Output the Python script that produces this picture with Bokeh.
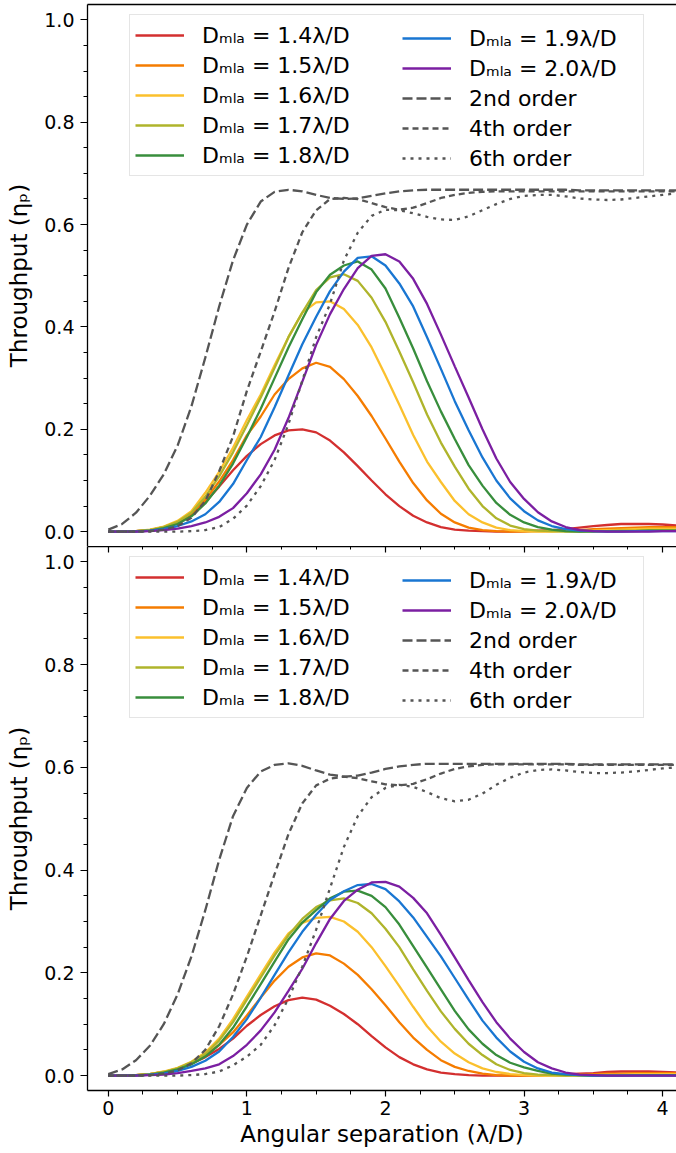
from bokeh.plotting import figure
from bokeh.layouts import column
from bokeh.models import (Legend, LegendItem, LinearAxis, SingleIntervalTicker,
                          Range1d, PrintfTickFormatter)
from bokeh.embed import file_html
from bokeh.resources import INLINE

# angular separation (lambda/D)
sep = [0.0, 0.1, 0.2, 0.3, 0.4, 0.5, 0.6, 0.7, 0.8, 0.9,
       1.0, 1.1, 1.2, 1.3, 1.4, 1.5, 1.6, 1.7, 1.8, 1.9,
       2.0, 2.1, 2.2, 2.3, 2.4, 2.5, 2.6, 2.7, 2.8, 2.9,
       3.0, 3.1, 3.2, 3.3, 3.4, 3.5, 3.6, 3.7, 3.8, 3.9,
       4.0, 4.1]

# ---- top panel ----
top_14 = [0.000, 0.000, 0.001, 0.003, 0.009, 0.018, 0.034, 0.058, 0.088, 0.120,
          0.148, 0.171, 0.188, 0.198, 0.200, 0.194, 0.178, 0.155, 0.128, 0.100,
          0.073, 0.050, 0.031, 0.018, 0.009, 0.004, 0.002, 0.001, 0.000, 0.000,
          0.001, 0.002, 0.003, 0.005, 0.008, 0.011, 0.013, 0.015, 0.015, 0.015,
          0.014, 0.012]
top_15 = [0.000, 0.000, 0.001, 0.003, 0.009, 0.019, 0.036, 0.062, 0.098, 0.140,
          0.188, 0.225, 0.268, 0.298, 0.319, 0.330, 0.322, 0.298, 0.265, 0.226,
          0.182, 0.137, 0.095, 0.061, 0.035, 0.018, 0.008, 0.003, 0.001, 0.000,
          0.000, 0.001, 0.001, 0.002, 0.003, 0.005, 0.006, 0.007, 0.008, 0.009,
          0.009, 0.009]
top_16 = [0.000, 0.000, 0.001, 0.004, 0.010, 0.021, 0.040, 0.076, 0.117, 0.164,
          0.218, 0.268, 0.325, 0.380, 0.428, 0.448, 0.450, 0.435, 0.404, 0.360,
          0.305, 0.248, 0.189, 0.137, 0.097, 0.060, 0.034, 0.018, 0.008, 0.003,
          0.001, 0.000, 0.000, 0.001, 0.001, 0.002, 0.003, 0.004, 0.005, 0.006,
          0.006, 0.006]
top_17 = [0.000, 0.000, 0.001, 0.003, 0.009, 0.019, 0.037, 0.068, 0.108, 0.155,
          0.208, 0.262, 0.320, 0.380, 0.428, 0.472, 0.497, 0.503, 0.490, 0.457,
          0.410, 0.352, 0.292, 0.229, 0.174, 0.127, 0.084, 0.050, 0.026, 0.012,
          0.005, 0.002, 0.001, 0.000, 0.000, 0.001, 0.001, 0.002, 0.002, 0.003,
          0.003, 0.003]
top_18 = [0.000, 0.000, 0.001, 0.002, 0.007, 0.015, 0.030, 0.055, 0.090, 0.133,
          0.185, 0.240, 0.300, 0.360, 0.415, 0.468, 0.502, 0.520, 0.528, 0.512,
          0.475, 0.418, 0.358, 0.294, 0.235, 0.181, 0.130, 0.090, 0.056, 0.033,
          0.018, 0.009, 0.004, 0.001, 0.000, 0.000, 0.001, 0.001, 0.001, 0.002,
          0.002, 0.002]
top_19 = [0.000, 0.000, 0.000, 0.002, 0.005, 0.011, 0.020, 0.034, 0.058, 0.093,
          0.140, 0.185, 0.243, 0.305, 0.366, 0.420, 0.470, 0.508, 0.535, 0.538,
          0.520, 0.485, 0.440, 0.380, 0.318, 0.255, 0.198, 0.145, 0.100, 0.065,
          0.040, 0.022, 0.011, 0.005, 0.002, 0.001, 0.000, 0.000, 0.001, 0.001,
          0.001, 0.001]
top_20 = [0.000, 0.000, 0.000, 0.001, 0.003, 0.006, 0.011, 0.018, 0.029, 0.046,
          0.075, 0.112, 0.160, 0.222, 0.293, 0.365, 0.425, 0.474, 0.515, 0.539,
          0.542, 0.528, 0.494, 0.445, 0.385, 0.323, 0.262, 0.200, 0.143, 0.097,
          0.064, 0.038, 0.020, 0.009, 0.003, 0.001, 0.000, 0.000, 0.000, 0.000,
          0.001, 0.001]
top_2nd = [0.004, 0.015, 0.037, 0.070, 0.112, 0.168, 0.245, 0.340, 0.440, 0.530,
           0.600, 0.645, 0.664, 0.668, 0.665, 0.658, 0.652, 0.650, 0.651, 0.656,
           0.661, 0.665, 0.667, 0.668, 0.668, 0.668, 0.668, 0.668, 0.668, 0.668,
           0.668, 0.668, 0.668, 0.668, 0.667, 0.667, 0.667, 0.667, 0.667, 0.667,
           0.667, 0.667]
top_4th = [0.000, 0.000, 0.000, 0.001, 0.004, 0.011, 0.027, 0.060, 0.118, 0.186,
           0.275, 0.352, 0.430, 0.515, 0.585, 0.628, 0.650, 0.652, 0.650, 0.642,
           0.634, 0.629, 0.633, 0.642, 0.652, 0.658, 0.662, 0.664, 0.665, 0.665,
           0.665, 0.665, 0.665, 0.665, 0.665, 0.665, 0.665, 0.665, 0.665, 0.665,
           0.665, 0.665]
top_6th = [0.000, 0.000, 0.000, 0.000, 0.000, 0.000, 0.001, 0.003, 0.009, 0.025,
           0.051, 0.089, 0.140, 0.210, 0.295, 0.380, 0.445, 0.530, 0.584, 0.617,
           0.629, 0.628, 0.622, 0.615, 0.610, 0.609, 0.616, 0.628, 0.640, 0.650,
           0.656, 0.658, 0.658, 0.655, 0.651, 0.649, 0.648, 0.649, 0.652, 0.655,
           0.658, 0.661]

# ---- bottom panel ----
bot_14 = [0.000, 0.000, 0.001, 0.003, 0.007, 0.013, 0.023, 0.036, 0.052, 0.072,
          0.097, 0.118, 0.135, 0.147, 0.152, 0.148, 0.136, 0.120, 0.100, 0.077,
          0.055, 0.036, 0.022, 0.012, 0.006, 0.003, 0.001, 0.000, 0.000, 0.000,
          0.000, 0.001, 0.002, 0.003, 0.004, 0.005, 0.007, 0.008, 0.008, 0.008,
          0.007, 0.006]
bot_15 = [0.000, 0.000, 0.001, 0.003, 0.007, 0.014, 0.025, 0.040, 0.060, 0.084,
          0.117, 0.152, 0.185, 0.212, 0.230, 0.238, 0.234, 0.218, 0.196, 0.168,
          0.137, 0.104, 0.074, 0.050, 0.030, 0.017, 0.009, 0.004, 0.001, 0.000,
          0.000, 0.000, 0.001, 0.001, 0.002, 0.003, 0.004, 0.004, 0.005, 0.005,
          0.005, 0.005]
bot_16 = [0.000, 0.000, 0.001, 0.003, 0.008, 0.015, 0.027, 0.045, 0.072, 0.110,
          0.154, 0.197, 0.240, 0.277, 0.297, 0.307, 0.309, 0.300, 0.280, 0.250,
          0.213, 0.174, 0.134, 0.096, 0.066, 0.043, 0.026, 0.014, 0.007, 0.003,
          0.001, 0.000, 0.000, 0.000, 0.001, 0.001, 0.002, 0.002, 0.003, 0.003,
          0.003, 0.003]
bot_17 = [0.000, 0.000, 0.001, 0.003, 0.007, 0.014, 0.026, 0.042, 0.068, 0.104,
          0.148, 0.191, 0.234, 0.273, 0.305, 0.328, 0.341, 0.345, 0.336, 0.316,
          0.286, 0.250, 0.207, 0.165, 0.125, 0.091, 0.062, 0.040, 0.022, 0.011,
          0.005, 0.002, 0.001, 0.000, 0.000, 0.000, 0.001, 0.001, 0.001, 0.001,
          0.001, 0.001]
bot_18 = [0.000, 0.000, 0.001, 0.002, 0.006, 0.012, 0.022, 0.037, 0.060, 0.093,
          0.135, 0.178, 0.222, 0.265, 0.298, 0.322, 0.345, 0.358, 0.360, 0.350,
          0.328, 0.294, 0.252, 0.210, 0.168, 0.126, 0.090, 0.062, 0.040, 0.025,
          0.016, 0.009, 0.004, 0.002, 0.001, 0.000, 0.000, 0.000, 0.001, 0.001,
          0.001, 0.001]
bot_19 = [0.000, 0.000, 0.000, 0.002, 0.004, 0.009, 0.017, 0.029, 0.047, 0.075,
          0.110, 0.152, 0.196, 0.240, 0.280, 0.313, 0.342, 0.359, 0.371, 0.373,
          0.363, 0.339, 0.308, 0.270, 0.232, 0.190, 0.148, 0.107, 0.074, 0.047,
          0.027, 0.014, 0.006, 0.003, 0.001, 0.000, 0.000, 0.000, 0.000, 0.000,
          0.000, 0.000]
bot_20 = [0.000, 0.000, 0.000, 0.001, 0.002, 0.005, 0.009, 0.014, 0.022, 0.038,
          0.060, 0.088, 0.123, 0.165, 0.208, 0.258, 0.305, 0.340, 0.362, 0.376,
          0.377, 0.368, 0.346, 0.316, 0.274, 0.230, 0.186, 0.143, 0.104, 0.072,
          0.046, 0.026, 0.014, 0.006, 0.002, 0.001, 0.000, 0.000, 0.000, 0.000,
          0.000, 0.000]
bot_2nd = [0.003, 0.012, 0.030, 0.058, 0.100, 0.158, 0.232, 0.322, 0.420, 0.505,
           0.560, 0.592, 0.605, 0.608, 0.603, 0.594, 0.586, 0.582, 0.584, 0.590,
           0.597, 0.602, 0.605, 0.607, 0.607, 0.607, 0.607, 0.607, 0.607, 0.607,
           0.607, 0.607, 0.607, 0.607, 0.606, 0.606, 0.606, 0.606, 0.606, 0.606,
           0.606, 0.606]
bot_4th = [0.000, 0.000, 0.000, 0.001, 0.004, 0.010, 0.024, 0.050, 0.096, 0.158,
           0.232, 0.312, 0.392, 0.470, 0.530, 0.565, 0.578, 0.582, 0.579, 0.573,
           0.567, 0.565, 0.568, 0.577, 0.588, 0.597, 0.602, 0.605, 0.606, 0.606,
           0.606, 0.606, 0.606, 0.606, 0.605, 0.605, 0.605, 0.605, 0.605, 0.605,
           0.605, 0.605]
bot_6th = [0.000, 0.000, 0.000, 0.000, 0.000, 0.000, 0.001, 0.003, 0.008, 0.020,
           0.037, 0.060, 0.098, 0.150, 0.212, 0.284, 0.365, 0.445, 0.505, 0.542,
           0.560, 0.566, 0.562, 0.552, 0.540, 0.534, 0.537, 0.549, 0.566, 0.580,
           0.590, 0.595, 0.596, 0.594, 0.591, 0.589, 0.589, 0.590, 0.592, 0.595,
           0.598, 0.600]

mla_sizes = ["1.4", "1.5", "1.6", "1.7", "1.8", "1.9", "2.0"]
mla_colors = ["#d32f2f", "#f57c00", "#fbc02d", "#afb42b", "#388e3c", "#1976d2", "#7b1fa2"]
orders = ["2nd order", "4th order", "6th order"]
order_dash = ["10 4", "6 4", "3 5"]
gray = "#555555"
FONT = "DejaVu Sans"


def edge_axis(tick_len):
    # a bare axis used as a spine, optionally with inward ticks
    return LinearAxis(ticker=SingleIntervalTicker(interval=1, num_minor_ticks=4),
                      major_tick_in=tick_len, major_tick_out=0,
                      minor_tick_in=int(tick_len * 0.6), minor_tick_out=0,
                      major_tick_line_color="black", minor_tick_line_color="black",
                      major_tick_line_width=1.2, minor_tick_line_width=1.0,
                      major_label_text_color=None, major_label_text_font_size="0px",
                      major_label_standoff=0, axis_line_color="black",
                      axis_line_width=1.3)


def make_panel(curves, order_curves, bottom):
    kw = dict(width=676, output_backend="svg", toolbar_location=None, tools="",
              x_range=Range1d(-0.150, 4.100), y_range=Range1d(-0.029, 1.030),
              min_border_left=87, min_border_right=0,
              background_fill_color="white", border_fill_color="white",
              outline_line_color=None)
    if bottom:
        p = figure(height=607, min_border_top=0, min_border_bottom=63, **kw)
    else:
        p = figure(height=546, min_border_top=4, min_border_bottom=0,
                   x_axis_location=None, **kw)
    p.xgrid.visible = False
    p.ygrid.visible = False

    p.yaxis.ticker = SingleIntervalTicker(interval=0.2, num_minor_ticks=4)
    p.yaxis.formatter = PrintfTickFormatter(format="%.1f")
    p.yaxis.axis_label = "Throughput (ηₚ)"
    for ax in p.axis:
        ax.axis_line_color = "black"
        ax.axis_line_width = 1.3
        ax.major_tick_line_color = "black"
        ax.minor_tick_line_color = "black"
        ax.major_tick_line_width = 1.2
        ax.minor_tick_line_width = 1.0
        ax.major_tick_in = 0
        ax.major_tick_out = 7
        ax.minor_tick_in = 0
        ax.minor_tick_out = 4
        ax.major_label_text_font = FONT
        ax.major_label_text_font_size = "19px"
        ax.major_label_text_color = "black"
        ax.major_label_standoff = 6
        ax.axis_label_text_font = FONT
        ax.axis_label_text_font_size = "23px"
        ax.axis_label_text_font_style = "normal"
        ax.axis_label_text_color = "black"
        ax.axis_label_standoff = 9

    if bottom:
        p.xaxis.ticker = SingleIntervalTicker(interval=1, num_minor_ticks=4)
        p.xaxis.axis_label = "Angular separation (λ/D)"
        p.xaxis.major_tick_out = 6
        p.xaxis.major_label_standoff = 4
        p.xaxis.axis_label_standoff = 3
        # shared edge with the panel above, its ticks pointing down
        p.add_layout(edge_axis(6), "above")
        leg_y = 372
    else:
        p.add_layout(edge_axis(0), "above")
        leg_y = 370

    renderers = []
    for vals, c in zip(curves, mla_colors):
        renderers.append(p.line(sep, vals, line_color=c, line_width=2.3))
    for vals, d in zip(order_curves, order_dash):
        renderers.append(p.line(sep, vals, line_color=gray, line_width=2.3, line_dash=d))

    labels = ["Dₘₗₐ = %sλ/D" % s for s in mla_sizes] + orders
    items = [LegendItem(label=l, renderers=[r]) for l, r in zip(labels, renderers)]

    style = dict(label_text_font=FONT, label_text_font_size="22px",
                 label_text_color="black", glyph_width=49, glyph_height=30,
                 label_height=30, label_standoff=18, spacing=0, padding=5)
    left = Legend(items=items[:5], location=(42, leg_y), label_width=436,
                  border_line_color="#cccccc", border_line_width=1,
                  background_fill_color="white", background_fill_alpha=0.8, **style)
    # second column: a frameless legend whose rows line up with the first
    right = Legend(items=items[5:], location=(315, leg_y + 3), label_width=20,
                   border_line_color=None, background_fill_alpha=0, **style)
    p.add_layout(left)
    p.add_layout(right)
    return p


top = make_panel([top_14, top_15, top_16, top_17, top_18, top_19, top_20],
                 [top_2nd, top_4th, top_6th], bottom=False)
bot = make_panel([bot_14, bot_15, bot_16, bot_17, bot_18, bot_19, bot_20],
                 [bot_2nd, bot_4th, bot_6th], bottom=True)

layout = column(top, bot, spacing=0)
open("out.html", "w").write(file_html(layout, INLINE))
